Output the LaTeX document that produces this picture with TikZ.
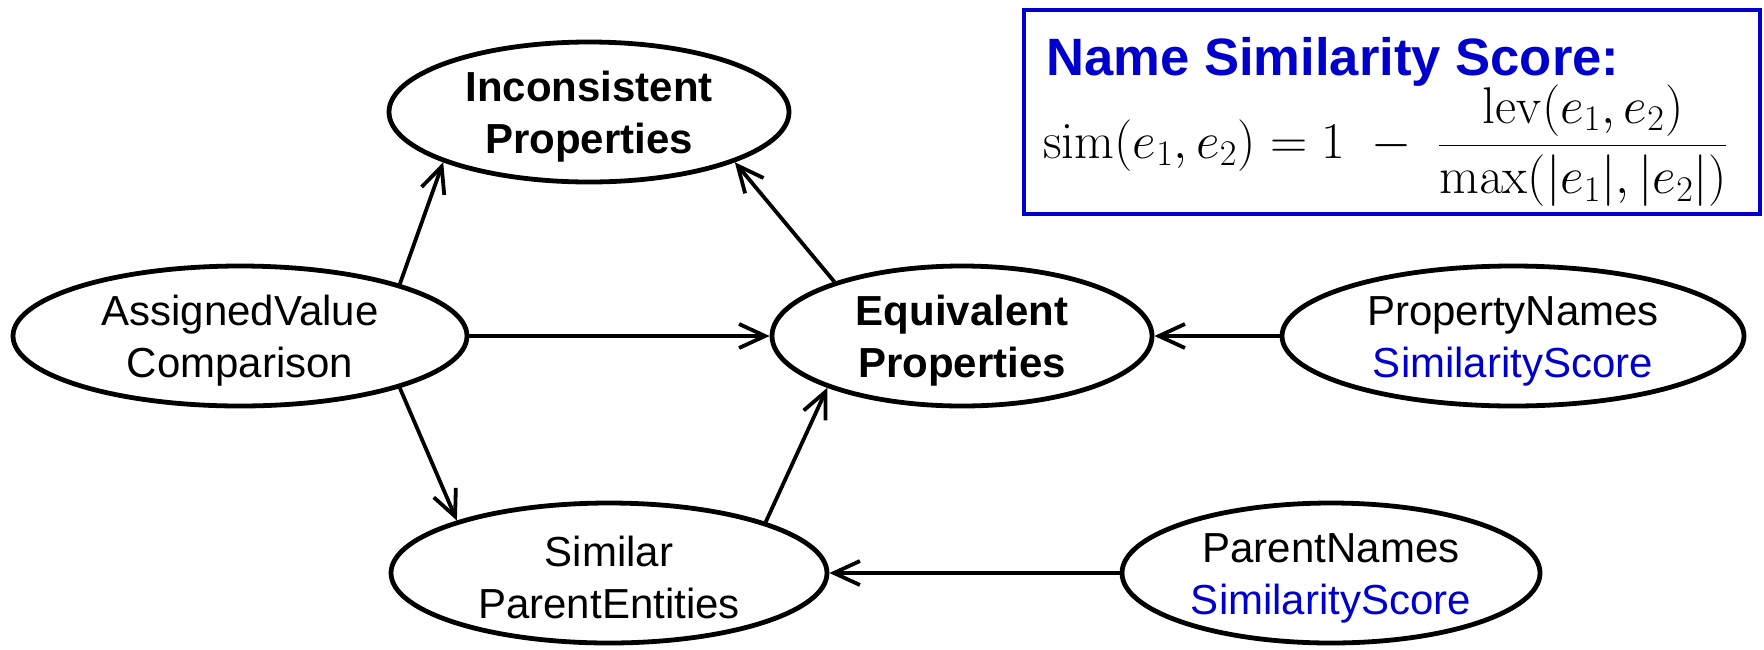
\RequirePackage{fix-cm}
\documentclass[tikz,border=0pt]{standalone}
\usepackage[no-math]{fontspec}
\newfontfamily\arial{Liberation Sans}
\usetikzlibrary{arrows.meta,shapes.geometric}
\definecolor{simblue}{RGB}{0,0,204}
% taller first line so the two-line labels sit a little lower in their ellipses
\newcommand{\firstline}{\rule{0pt}{20pt}}
\begin{document}
\begin{tikzpicture}[x=0.5pt,y=-0.5pt,
  elli/.style={ellipse, draw, line width=2.4pt, inner xsep=0pt, inner ysep=-8pt,
    align=center, font=\arial\fontsize{21}{26}\selectfont},
  link/.style={line width=1.9pt, -{Straight Barb[length=13pt,width=12pt]}},
  boldtext/.style={font=\arial\bfseries\fontsize{21}{26}\selectfont}]
\useasboundingbox (0,0) rectangle (1764,649);

% concept ellipses
\node[elli, boldtext, minimum width=200pt, minimum height=70pt] (inc) at (589,112) {\firstline Inconsistent\\Properties};
\node[elli, minimum width=227pt, minimum height=70pt] (avc) at (240,336) {\firstline AssignedValue\\Comparison};
\node[elli, boldtext, minimum width=190pt, minimum height=70pt] (eq) at (962,336) {\firstline Equivalent\\Properties};
\node[elli, minimum width=231pt, minimum height=70pt] (pn) at (1513,336) {\firstline PropertyNames\\\textcolor{simblue}{SimilarityScore}};
\node[elli, minimum width=218pt, minimum height=70pt] (spe) at (609,573) {\firstline Similar\\ParentEntities};
\node[elli, minimum width=209pt, minimum height=70pt] (par) at (1331,573) {\firstline ParentNames\\\textcolor{simblue}{SimilarityScore}};

% connectors
\draw[link] (avc.18) -- (inc.-161);
\draw[link] (eq.157) -- (inc.-19);
\draw[link] (avc.east) -- (eq.west);
\draw[link] (avc.-18) -- (spe.161);
\draw[link] (spe.18) -- (eq.-159);
\draw[link] (pn.west) -- (eq.east);
\draw[link] (par.west) -- (spe.east);

% score definition box
\node[draw=simblue, line width=2.2pt, minimum width=368pt, minimum height=102pt,
  inner sep=0pt, anchor=north west] (box) at (1022,8) {};
\node[anchor=base west, inner sep=0pt, text=simblue,
  font=\arial\bfseries\fontsize{26.3}{30}\selectfont] (title) at (1046,75) {Name Similarity Score:};
\node[anchor=base west, inner sep=0pt, font=\fontsize{25.8}{30}\selectfont] (formula) at (1043,158)
  {$\displaystyle \mathrm{sim}(e_1,e_2) = 1\;-\;\frac{\mathrm{lev}(e_1,e_2)}{\mathrm{max}(|e_1|,|e_2|)}$};
\end{tikzpicture}
\end{document}
